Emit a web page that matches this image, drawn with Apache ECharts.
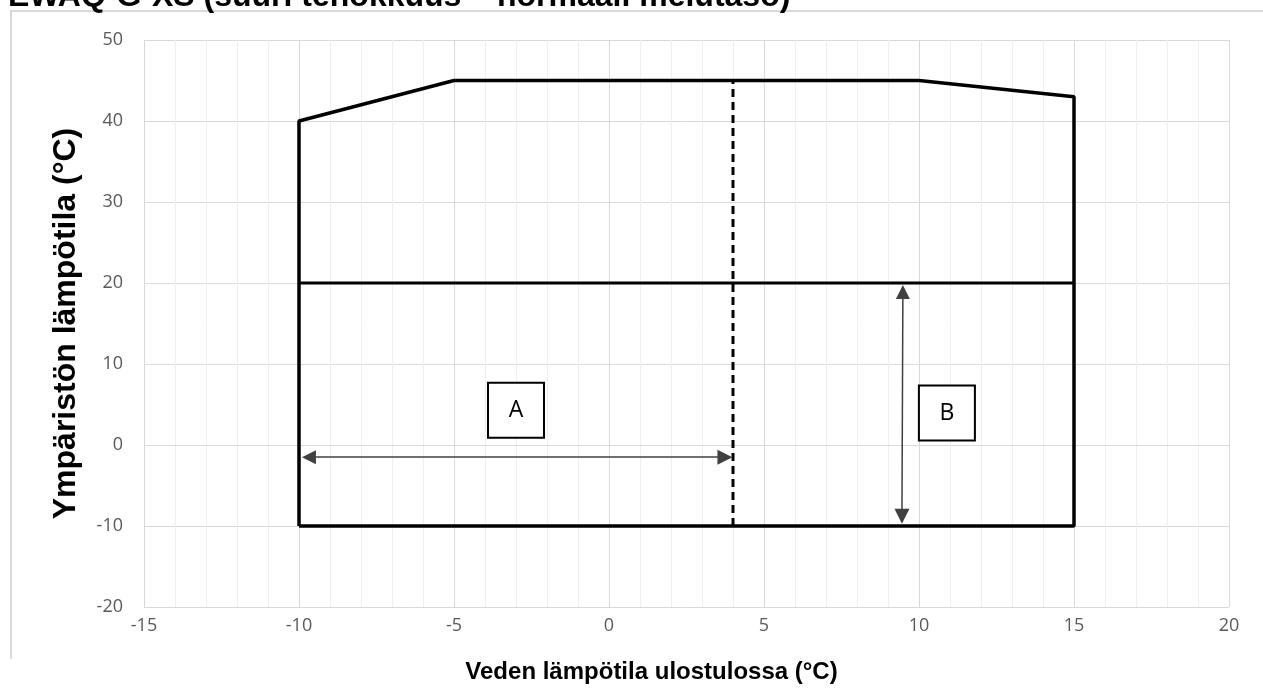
<!DOCTYPE html>
<html>
<head>
<meta charset="utf-8">
<script src="https://cdn.jsdelivr.net/npm/echarts@6/dist/echarts.min.js"></script>
<style>
  html, body { margin: 0; padding: 0; background: #fff; }
  #chart { width: 1263px; height: 695px; }
</style>
</head>
<body>
<div id="chart"></div>
<script>
// käyttöalue (toiminta-alue)
const envelopeX = [-10, -10, -5, 10, 15, 15, -10]
const envelopeY = [-10, 40, 45, 45, 43, -10, -10]
// raja 20 °C
const midLineX = [-10, 15]
const midLineY = [20, 20]
// katkoviiva x = 4
const dashX = [4, 4]
const dashY = [-10, 45]
// nuolet A ja B (kärjet piirretään pisteiden keskelle, siksi hieman sisempänä)
const arrowA = [[-9.68, -1.5], [3.74, -1.5]]
const arrowB = [[9.48, 18.9], [9.45, -8.8]]
// laatikot
const boxNames = ['A', 'B']
const boxX = [-3.0, 10.9]
const boxY = [4.3, 3.95]
// akselit
const xTicks = { min: -15, max: 20, step: 5 }
const yTicks = { min: -20, max: 50, step: 10 }

const chart = echarts.init(document.getElementById('chart'))

const labelColor = '#595959'
const gridColor = '#d9d9d9'

const option = {
  animation: false,
  grid: { left: 144, right: 34, top: 40, bottom: 88 },
  xAxis: {
    type: 'value',
    min: xTicks.min,
    max: xTicks.max,
    interval: xTicks.step,
    name: 'Veden lämpötila ulostulossa (°C)',
    nameLocation: 'middle',
    nameGap: 53,
    nameTextStyle: {
      fontFamily: 'Liberation Sans',
      fontWeight: 'bold',
      fontSize: 24,
      color: '#000',
      padding: [0, 70, 0, 0]
    },
    axisLine: { show: true, lineStyle: { color: gridColor, width: 1 } },
    axisTick: { show: false },
    axisLabel: { color: labelColor, fontSize: 18, fontFamily: 'Open Sans', margin: 10 },
    splitLine: { show: true, lineStyle: { color: gridColor, width: 1 } },
    minorTick: { show: false, splitNumber: 5 },
    minorSplitLine: { show: true, lineStyle: { color: '#efefef', width: 1 } }
  },
  yAxis: {
    type: 'value',
    min: yTicks.min,
    max: yTicks.max,
    interval: yTicks.step,
    name: 'Ympäristön lämpötila (°C)',
    nameLocation: 'middle',
    nameGap: 62,
    nameTextStyle: { fontFamily: 'Liberation Sans', fontWeight: 'bold', fontSize: 32, color: '#000' },
    axisLine: { show: false },
    axisTick: { show: false },
    axisLabel: { color: labelColor, fontSize: 18, fontFamily: 'Open Sans', margin: 21 },
    splitLine: { show: true, lineStyle: { color: gridColor, width: 1 } }
  },
  graphic: [
    {
      type: 'polyline',
      shape: { points: [[11, 659], [11, 11], [1263, 11]] },
      style: { stroke: '#d9d9d9', lineWidth: 2, fill: null },
      silent: true
    },
    {
      type: 'text',
      left: 8,
      top: -19,
      style: {
        text: 'EWAQ-G-XS (suuri tehokkuus – normaali melutaso)',
        font: 'bold 32px "Liberation Sans"',
        fill: '#000'
      },
      silent: true
    }
  ],
  series: [
    {
      type: 'line',
      data: envelopeX.map((x, i) => [x, envelopeY[i]]),
      symbol: 'none',
      lineStyle: { color: '#000', width: 3.5 },
      z: 5
    },
    {
      type: 'line',
      data: midLineX.map((x, i) => [x, midLineY[i]]),
      symbol: 'none',
      lineStyle: { color: '#000', width: 3 },
      z: 5
    },
    {
      type: 'line',
      data: dashX.map((x, i) => [x, dashY[i]]),
      symbol: 'none',
      lineStyle: { color: '#000', width: 3, type: [8, 5] },
      z: 5
    },
    {
      type: 'lines',
      coordinateSystem: 'cartesian2d',
      symbol: ['triangle', 'triangle'],
      symbolSize: [14, 15],
      lineStyle: { color: '#404040', width: 1.5, opacity: 1 },
      itemStyle: { color: '#000' },
      data: [{ coords: arrowA }, { coords: arrowB }],
      z: 6
    },
    {
      type: 'scatter',
      data: boxNames.map((n, i) => ({ name: n, value: [boxX[i], boxY[i]] })),
      symbol: 'rect',
      symbolSize: [56, 55],
      itemStyle: { color: '#fff', borderColor: '#000', borderWidth: 2, opacity: 1 },
      label: {
        show: true,
        position: 'inside',
        formatter: (p) => p.name,
        color: '#000',
        fontSize: 23,
        fontFamily: 'Open Sans'
      },
      z: 7
    }
  ]
}

chart.setOption(option)
</script>
</body>
</html>
